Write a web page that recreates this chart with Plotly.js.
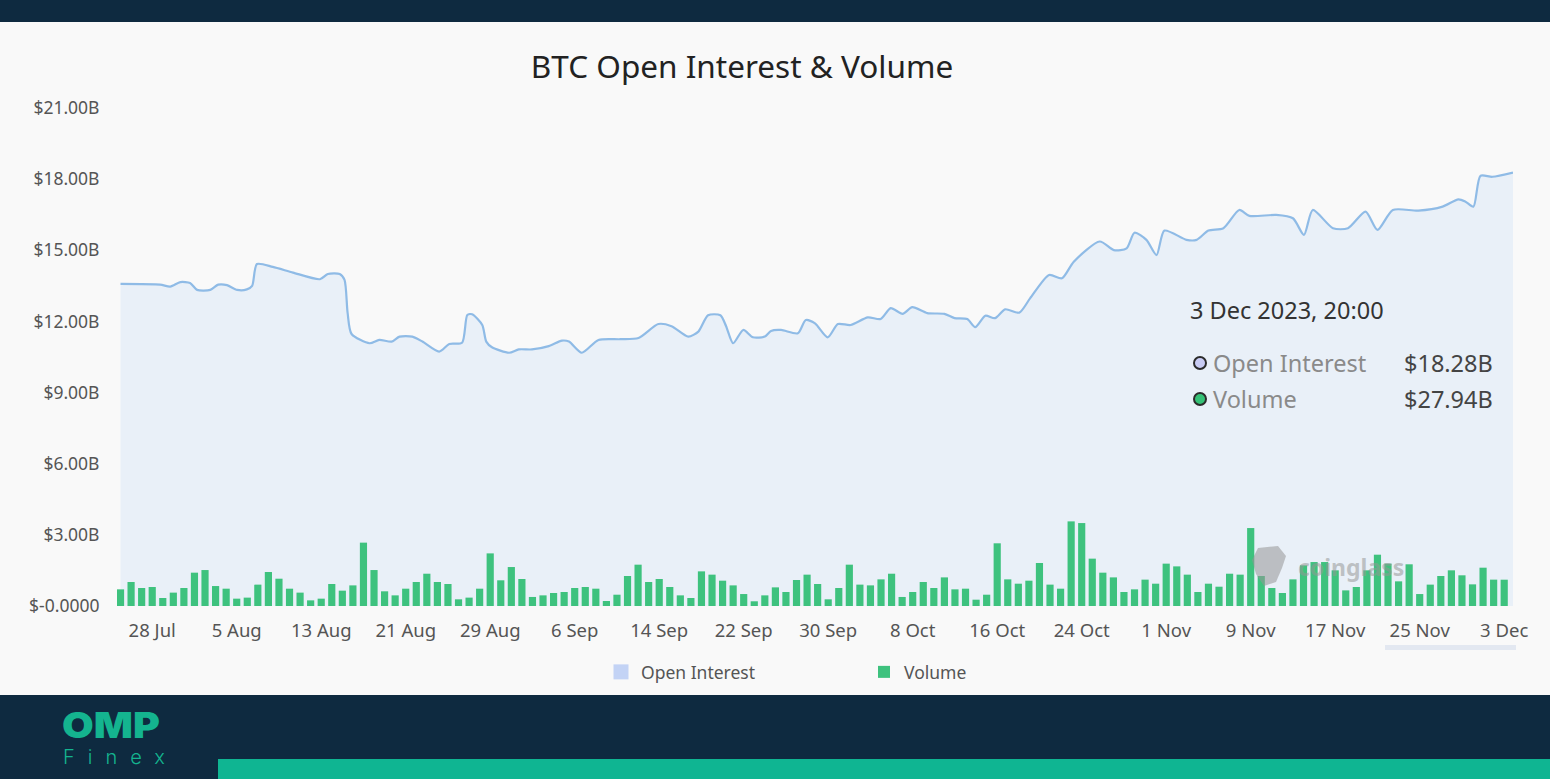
<!DOCTYPE html>
<html>
<head>
<meta charset="utf-8">
<script src="https://cdn.plot.ly/plotly-3.0.1.min.js"></script>
<style>
  html,body{margin:0;padding:0;}
  body{width:1550px;height:779px;background:#0e2a40;overflow:hidden;position:relative;font-family:"Noto Sans",sans-serif;}
  #chart{position:absolute;left:0;top:22px;width:1550px;height:673px;background:#f9f9f9;}
  #logo1{position:absolute;left:62px;top:705px;font-family:Inter,"Noto Sans",sans-serif;font-weight:900;font-size:35px;letter-spacing:0px;color:#14b48f;line-height:38px;transform:scale(1.17,1.02);transform-origin:left top;}
  #logo2{position:absolute;left:63px;top:746px;font-family:Inter,"Noto Sans",sans-serif;font-weight:300;font-size:20px;letter-spacing:13px;color:#14b48f;line-height:22px;}
  #band{position:absolute;left:218px;top:759px;width:1332px;height:20px;background:#0fb592;}
</style>
</head>
<body>
<div id="chart"></div>
<div id="logo1">OMP</div>
<div id="logo2">Finex</div>
<div id="band"></div>
<script>
// ---------- DATA ----------
const chartTitle = "BTC Open Interest & Volume";
const seriesNames = ["Open Interest", "Volume"];
const tooltipTime = "3 Dec 2023, 20:00";

// Open interest (USD billions), time stamps
const oiTime = [
  "2023-07-25 00:00","2023-07-28 18:00","2023-07-29 17:00","2023-07-30 16:00","2023-07-31 14:00",
  "2023-08-01 06:00","2023-08-02 12:00","2023-08-03 06:00","2023-08-04 02:00","2023-08-05 01:00",
  "2023-08-05 23:00","2023-08-06 11:00","2023-08-06 22:00","2023-08-08 10:00","2023-08-10 08:00",
  "2023-08-12 21:00","2023-08-13 15:00","2023-08-14 18:00","2023-08-15 05:00","2023-08-15 12:00",
  "2023-08-15 21:00","2023-08-17 14:00","2023-08-18 12:00","2023-08-19 16:00","2023-08-20 10:00",
  "2023-08-21 15:00","2023-08-22 14:00","2023-08-24 04:00","2023-08-25 03:00","2023-08-26 08:00",
  "2023-08-26 20:00","2023-08-27 07:00","2023-08-28 06:00","2023-08-28 15:00","2023-08-29 04:00",
  "2023-08-30 19:00","2023-08-31 17:00","2023-09-01 23:00","2023-09-03 13:00","2023-09-04 19:00",
  "2023-09-05 11:00","2023-09-06 16:00","2023-09-08 06:00","2023-09-10 08:00","2023-09-12 01:00",
  "2023-09-13 22:00","2023-09-15 04:00","2023-09-16 18:00","2023-09-17 17:00","2023-09-18 15:00",
  "2023-09-19 19:00","2023-09-20 08:00","2023-09-21 00:00","2023-09-21 23:00","2023-09-22 21:00",
  "2023-09-24 00:00","2023-09-24 14:00","2023-09-25 13:00","2023-09-27 03:00","2023-09-27 21:00",
  "2023-09-28 18:00","2023-09-29 23:00","2023-09-30 22:00","2023-10-02 03:00","2023-10-03 18:00",
  "2023-10-04 23:00","2023-10-05 22:00","2023-10-07 01:00","2023-10-07 23:00","2023-10-09 09:00",
  "2023-10-11 00:00","2023-10-11 23:00","2023-10-13 04:00","2023-10-13 22:00","2023-10-14 21:00",
  "2023-10-15 19:00","2023-10-16 18:00","2023-10-18 02:00","2023-10-19 03:00","2023-10-20 22:00",
  "2023-10-22 03:00","2023-10-23 06:00","2023-10-25 17:00","2023-10-27 01:00","2023-10-28 06:00",
  "2023-10-29 00:00","2023-10-30 03:00","2023-10-31 02:00","2023-10-31 20:00","2023-11-02 22:00",
  "2023-11-03 21:00","2023-11-05 00:00","2023-11-06 10:00","2023-11-07 22:00","2023-11-08 21:00",
  "2023-11-11 10:00","2023-11-13 00:00","2023-11-14 01:00","2023-11-14 21:00","2023-11-16 19:00",
  "2023-11-18 05:00","2023-11-19 21:00","2023-11-21 00:00","2023-11-22 11:00","2023-11-24 21:00",
  "2023-11-27 04:00","2023-11-28 16:00","2023-11-29 08:00","2023-11-30 02:00","2023-11-30 18:00",
  "2023-12-01 21:00","2023-12-03 20:00"
];
const oiValue = [
  13.58,13.55,13.47,13.66,13.62,
  13.33,13.33,13.55,13.53,13.33,
  13.35,13.50,14.42,14.30,14.06,
  13.78,14.00,14.00,13.75,12.36,
  11.47,11.08,11.22,11.15,11.36,
  11.36,11.15,10.73,11.05,11.10,
  12.27,12.30,11.85,11.15,10.91,
  10.68,10.82,10.82,10.96,11.19,
  11.15,10.68,11.22,11.25,11.30,
  11.89,11.80,11.36,11.57,12.26,
  12.26,11.80,11.08,11.64,11.33,
  11.36,11.60,11.64,11.50,12.06,
  11.92,11.33,11.89,11.85,12.17,
  12.10,12.56,12.32,12.60,12.35,
  12.32,12.14,12.10,11.76,12.24,
  12.14,12.51,12.37,12.98,13.96,
  13.82,14.52,15.37,15.01,15.08,
  15.74,15.44,14.80,15.83,15.44,
  15.44,15.83,15.93,16.70,16.45,
  16.49,16.35,15.65,16.70,15.93,
  15.93,16.63,15.86,16.70,16.67,
  16.84,17.15,17.05,16.84,18.14,
  18.10,18.28
];

// Daily volume (USD billions), first day and values
const volStartDate = "2023-07-25";
const volValue = [
  17.7,25.5,19.1,20.2,8.5,14.2,19.1,35.4,38.2,21.2,
  18.4,7.8,8.9,22.7,36.1,29.0,18.4,14.2,6.0,7.8,
  23.4,16.3,21.9,67.3,38.2,15.6,11.3,18.4,25.5,34.3,
  25.5,23.4,7.1,8.9,18.4,55.9,27.3,41.4,28.7,9.6,
  11.3,13.8,14.9,19.1,20.2,18.4,5.3,12.0,31.9,43.9,
  25.5,28.7,20.2,11.3,8.5,36.8,33.3,26.9,21.9,12.7,
  5.0,11.3,19.8,14.9,27.6,33.3,23.4,7.1,19.1,43.9,
  22.7,21.9,28.3,34.3,9.6,14.9,25.5,19.1,30.4,17.7,
  18.4,6.7,12.0,66.6,28.3,23.7,26.9,45.7,22.7,18.4,
  89.9,88.1,50.3,35.4,30.4,14.9,17.7,28.0,23.7,45.0,
  42.1,33.3,14.9,23.7,20.5,34.3,33.3,82.8,31.9,19.1,
  13.8,28.3,43.2,46.7,46.7,37.9,16.6,20.2,37.9,54.5,
  45.0,26.2,44.3,12.7,22.7,31.9,37.9,32.6,23.0,40.7,
  28.0,27.94
];

// Axis ticks
const yTickValues = [0,3,6,9,12,15,18,21];
const yTickText = ["$-0.0000","$3.00B","$6.00B","$9.00B","$12.00B","$15.00B","$18.00B","$21.00B"];

// ---------- BUILD ----------
const volDates = volValue.map((_, i) => {
  const d = new Date(volStartDate + "T00:00:00Z");
  d.setUTCDate(d.getUTCDate() + i);
  return d.toISOString().slice(0, 10);
});

const C = {
  oiLine: "#8fbbe6", oiFill: "#e9f0f8", oiLegend: "#c3d3f5",
  bar: "#3ec27e", text: "#555555", title: "#222222"
};
const FONT = '"Noto Sans", "Open Sans", sans-serif';

// plot area in page pixels: left 117, right 1513, top 108, bottom 606 (chart div starts at y=22)
const PL = 117, PW = 1396, PB = 606, PH = 498;
const px = x => (x - PL) / PW;
const py = y => (PB - y) / PH;

const traces = [
  {
    type: "scatter", mode: "lines", x: oiTime, y: oiValue, name: seriesNames[0],
    line: {color: C.oiLine, width: 2.2, shape: "spline", smoothing: 0.7},
    fill: "tozeroy", fillcolor: C.oiFill, showlegend: false, hoverinfo: "skip"
  },
  {
    type: "scatter", mode: "markers", x: [null], y: [null], name: seriesNames[0],
    marker: {symbol: "square", size: 15, color: C.oiLegend}, showlegend: true
  },
  {
    type: "bar", x: volDates, y: volValue, name: seriesNames[1], yaxis: "y2",
    marker: {color: C.bar, line: {width: 0}}, showlegend: true, hoverinfo: "skip"
  }
];

const fmtB = v => "$" + v.toFixed(2) + "B";
const TS = 23.5;
const annotations = [
  {xref: "paper", yref: "paper", x: px(1188), y: py(310), xanchor: "left", yanchor: "middle",
   text: tooltipTime, showarrow: false, font: {family: FONT, size: TS, color: "#333"}},
  {xref: "paper", yref: "paper", x: px(1211), y: py(363), xanchor: "left", yanchor: "middle",
   text: seriesNames[0], showarrow: false, font: {family: FONT, size: TS, color: "#8a8a8a"}},
  {xref: "paper", yref: "paper", x: px(1495), y: py(363), xanchor: "right", yanchor: "middle",
   text: fmtB(oiValue[oiValue.length - 1]), showarrow: false, font: {family: FONT, size: TS, color: "#444"}},
  {xref: "paper", yref: "paper", x: px(1211), y: py(399), xanchor: "left", yanchor: "middle",
   text: seriesNames[1], showarrow: false, font: {family: FONT, size: TS, color: "#8a8a8a"}},
  {xref: "paper", yref: "paper", x: px(1495), y: py(399), xanchor: "right", yanchor: "middle",
   text: fmtB(volValue[volValue.length - 1]), showarrow: false, font: {family: FONT, size: TS, color: "#444"}},
  {xref: "paper", yref: "paper", x: px(1296), y: py(567), xanchor: "left", yanchor: "middle",
   text: "<b>coinglass</b>", showarrow: false, font: {family: FONT, size: 23, color: "rgba(150,150,150,0.55)"}}
];

const circ = (cx, cy, r, fill) => ({
  type: "circle", xref: "paper", yref: "paper",
  x0: px(cx - r), x1: px(cx + r), y0: py(cy + r), y1: py(cy - r),
  fillcolor: fill, line: {color: "#2b2b2b", width: 2}, layer: "above"
});
const shapes = [
  circ(1200, 363, 6, "#c9ccf4"),
  circ(1200, 399, 6, "#35c176"),
  {type: "path", xref: "paper", yref: "paper", layer: "above",
   path: `M ${px(1258)} ${py(548)} L ${px(1278)} ${py(546)} L ${px(1286)} ${py(556)} L ${px(1282)} ${py(568)} L ${px(1276)} ${py(582)} L ${px(1264)} ${py(586)} L ${px(1256)} ${py(574)} L ${px(1252)} ${py(560)} Z`,
   fillcolor: "rgba(150,150,150,0.55)", line: {width: 0}},
  {type: "rect", xref: "paper", yref: "paper", x0: px(1385), x1: px(1516), y0: py(650), y1: py(645),
   fillcolor: "#e3e8f1", line: {width: 0}}
];

const layout = {
  width: 1550, height: 673,
  margin: {l: PL, r: 1550 - PL - PW, t: 86, b: 673 - 86 - PH},
  paper_bgcolor: "#f9f9f9", plot_bgcolor: "#f9f9f9",
  font: {family: FONT, color: C.text},
  title: {text: chartTitle, x: 742 / 1550, xanchor: "center", y: 1 - 45 / 673, yanchor: "middle",
          font: {family: FONT, size: 31.5, color: C.title}},
  showlegend: true,
  legend: {orientation: "h", xref: "container", yref: "container", x: 601 / 1550, y: 1 - 650 / 673,
           xanchor: "left", yanchor: "middle", entrywidth: 218, entrywidthmode: "pixels",
           font: {family: FONT, size: 17.5, color: C.text}, bgcolor: "rgba(0,0,0,0)", traceorder: "normal"},
  xaxis: {type: "date", range: ["2023-07-24 16:00", "2023-12-03 20:00"],
          tick0: "2023-07-28", dtick: 8 * 86400000, tickformat: "%-d %b",
          showgrid: false, zeroline: false, showline: false,
          ticks: "outside", ticklen: 8, tickcolor: "rgba(0,0,0,0)",
          tickfont: {family: FONT, size: 18.5, color: C.text}},
  yaxis: {range: [0, 21], tickmode: "array", tickvals: yTickValues, ticktext: yTickText,
          showgrid: false, zeroline: false, showline: false,
          ticks: "outside", ticklen: 13, tickcolor: "rgba(0,0,0,0)",
          tickfont: {family: FONT, size: 17.5, color: C.text}},
  yaxis2: {overlaying: "y", range: [0, 529], visible: false, showgrid: false, zeroline: false},
  bargap: 0.32,
  hovermode: false,
  annotations: annotations,
  shapes: shapes
};

Plotly.newPlot("chart", traces, layout, {displayModeBar: false, staticPlot: true});
</script>
</body>
</html>
